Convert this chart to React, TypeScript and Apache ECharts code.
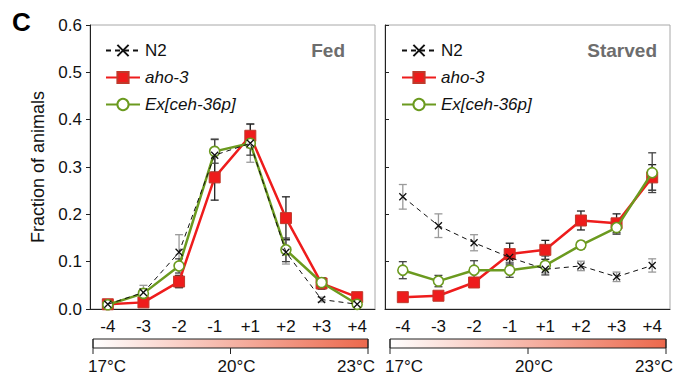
import React, { useEffect, useRef } from "react";
import * as echarts from "echarts";

const categories = ["-4", "-3", "-2", "-1", "+1", "+2", "+3", "+4"];
const yTicks = [0, 0.1, 0.2, 0.3, 0.4, 0.5, 0.6];
const seriesNames = ["N2", "aho-3", "Ex[ceh-36p]"];

// Fed panel
const fedN2 = [0.01, 0.035, 0.12, 0.325, 0.35, 0.12, 0.02, 0.01];
const fedN2Err = [0.004, 0.015, 0.037, 0.035, 0.04, 0.025, 0.005, 0.004];
const fedAho3 = [0.01, 0.014, 0.058, 0.278, 0.366, 0.192, 0.054, 0.025];
const fedAho3Err = [0.004, 0.005, 0.013, 0.048, 0.025, 0.045, 0.012, 0.005];
const fedEx = [0.009, 0.033, 0.091, 0.333, 0.35, 0.125, 0.056, 0.01];
const fedExErr = [0.004, 0.01, 0.015, 0.025, 0.025, 0.025, 0.01, 0.004];

// Starved panel
const stvN2 = [0.237, 0.176, 0.14, 0.109, 0.084, 0.091, 0.068, 0.092];
const stvN2Err = [0.026, 0.025, 0.017, 0.01, 0.008, 0.01, 0.01, 0.014];
const stvAho3 = [0.025, 0.028, 0.056, 0.116, 0.125, 0.187, 0.181, 0.278];
const stvAho3Err = [0.004, 0.005, 0.008, 0.023, 0.02, 0.02, 0.02, 0.027];
const stvEx = [0.082, 0.059, 0.082, 0.082, 0.092, 0.135, 0.172, 0.288];
const stvExErr = [0.018, 0.012, 0.02, 0.015, 0.02, 0.008, 0.014, 0.042];

const panelTitles = ["Fed", "Starved"];
const tempLabels = ["17°C", "20°C", "23°C"];

const FONT = "'Liberation Sans', Arial, Helvetica, sans-serif";
const RED = "#ee1c1c";
const GREEN = "#6b9a1f";
const X_SYMBOL = "path://M0,0L10,10M10,0L0,10";

function errData(vals: number[], errs: number[]) {
  return vals.map((v, i) => [i, v - errs[i], v + errs[i]]);
}

function errSeries(idx: number, vals: number[], errs: number[], color: string, z: number) {
  return {
    type: "custom",
    xAxisIndex: idx,
    yAxisIndex: idx,
    z,
    silent: true,
    encode: { x: 0, y: [1, 2] },
    data: errData(vals, errs),
    renderItem: (params: any, api: any) => {
      const x = api.value(0);
      const lo = api.coord([x, api.value(1)]);
      const hi = api.coord([x, api.value(2)]);
      const w = 4;
      const style = { stroke: color, lineWidth: 1.3 };
      return {
        type: "group",
        children: [
          { type: "line", shape: { x1: lo[0], y1: lo[1], x2: hi[0], y2: hi[1] }, style },
          { type: "line", shape: { x1: lo[0] - w, y1: lo[1], x2: lo[0] + w, y2: lo[1] }, style },
          { type: "line", shape: { x1: hi[0] - w, y1: hi[1], x2: hi[0] + w, y2: hi[1] }, style },
        ],
      };
    },
  };
}

function lineSeries(idx: number, name: string, vals: number[]) {
  if (name === "N2") {
    return {
      type: "line",
      name,
      xAxisIndex: idx,
      yAxisIndex: idx,
      z: 6,
      data: vals,
      symbol: X_SYMBOL,
      symbolSize: 7,
      lineStyle: { color: "#111", width: 1, type: [5, 4] },
      itemStyle: { color: "#111", borderColor: "#111", borderWidth: 1.3 },
    };
  }
  if (name === "aho-3") {
    return {
      type: "line",
      name,
      xAxisIndex: idx,
      yAxisIndex: idx,
      z: 4,
      data: vals,
      symbol: "rect",
      symbolSize: 11,
      lineStyle: { color: RED, width: 2.5 },
      itemStyle: { color: RED, borderColor: "#c0392b", borderWidth: 1 },
    };
  }
  return {
    type: "line",
    name,
    xAxisIndex: idx,
    yAxisIndex: idx,
    z: 5,
    data: vals,
    symbol: "circle",
    symbolSize: 10,
    lineStyle: { color: GREEN, width: 2.5 },
    itemStyle: { color: "#ffffff", borderColor: GREEN, borderWidth: 1.6 },
  };
}

function colorBar(x0: number, x1: number, y: number) {
  const h = 9;
  const mid = (x0 + x1) / 2;
  const tickStyle = { stroke: "#222", lineWidth: 1 };
  const textStyle = (align: string) => ({
    fill: "#111",
    font: `17px ${FONT}`,
    align,
    verticalAlign: "middle",
  });
  return [
    {
      type: "rect",
      shape: { x: x0, y, width: x1 - x0, height: h },
      style: {
        fill: new echarts.graphic.LinearGradient(0, 0, 1, 0, [
          { offset: 0, color: "#ffffff" },
          { offset: 1, color: "#ec684c" },
        ]),
        stroke: "#222",
        lineWidth: 1,
      },
    },
    { type: "line", shape: { x1: x0, y1: y, x2: x0, y2: y + h + 6 }, style: tickStyle },
    { type: "line", shape: { x1: mid, y1: y + h, x2: mid, y2: y + h + 6 }, style: tickStyle },
    { type: "line", shape: { x1: x1, y1: y, x2: x1, y2: y + h + 6 }, style: tickStyle },
    { type: "text", x: x0 - 5, y: y + 27, style: { text: tempLabels[0], ...textStyle("left") } },
    { type: "text", x: mid + 6, y: y + 27, style: { text: tempLabels[1], ...textStyle("center") } },
    { type: "text", x: x1 + 7, y: y + 27, style: { text: tempLabels[2], ...textStyle("right") } },
  ];
}

export default function App() {
  const ref = useRef<HTMLDivElement>(null);

  useEffect(() => {
    if (!ref.current) return;
    const chart = echarts.init(ref.current, undefined, { renderer: "svg" });

    const xAxisBase = (idx: number) => ({
      type: "category",
      gridIndex: idx,
      data: categories,
      boundaryGap: true,
      axisLine: { lineStyle: { color: "#222", width: 1 } },
      axisTick: { inside: true, length: 5, alignWithLabel: false, lineStyle: { color: "#222" } },
      axisLabel: { color: "#111", fontSize: 17, fontFamily: FONT, margin: 9 },
      splitLine: { show: false },
    });

    const yAxisBase = (idx: number) => ({
      type: "value",
      gridIndex: idx,
      min: 0,
      max: 0.6,
      interval: 0.1,
      axisLine: { show: true, lineStyle: { color: "#222", width: 1 } },
      axisTick: { show: true, inside: idx === 1, length: 4, lineStyle: { color: "#222" } },
      axisLabel: {
        show: idx === 0,
        color: "#111",
        fontSize: 17,
        fontFamily: FONT,
        margin: 8,
        formatter: (v: number) => (yTicks.some((t) => Math.abs(t - v) < 1e-9) ? v.toFixed(1) : ""),
      },
      splitLine: { show: false },
      name: idx === 0 ? "Fraction of animals" : "",
      nameLocation: "middle",
      nameGap: 43,
      nameTextStyle: { color: "#111", fontSize: 18, fontFamily: FONT },
    });

    const legendBase = (left: number) => ({
      orient: "vertical",
      left,
      top: 37,
      itemWidth: 34,
      itemHeight: 14,
      itemGap: 10,
      data: seriesNames,
      selectedMode: false,
      textStyle: {
        color: "#111",
        fontSize: 17,
        fontFamily: FONT,
        lineHeight: 14,
        rich: { i: { fontStyle: "italic", fontSize: 17, fontFamily: FONT, color: "#111" } },
      },
      formatter: (name: string) => (name === "N2" ? name : `{i|${name}}`),
    });

    chart.setOption({
      animation: false,
      backgroundColor: "#ffffff",
      textStyle: { fontFamily: FONT },
      grid: [
        { left: 90, top: 25, width: 285, height: 284, show: true, borderColor: "#a8a8a8", borderWidth: 1 },
        { left: 385, top: 25, width: 285, height: 284, show: true, borderColor: "#a8a8a8", borderWidth: 1 },
      ],
      xAxis: [xAxisBase(0), xAxisBase(1)],
      yAxis: [yAxisBase(0), yAxisBase(1)],
      legend: [legendBase(100), legendBase(396)],
      series: [
        errSeries(0, fedN2, fedN2Err, "#9a9a9a", 1),
        errSeries(0, fedAho3, fedAho3Err, "#222", 2),
        errSeries(0, fedEx, fedExErr, "#444", 2),
        lineSeries(0, "aho-3", fedAho3),
        lineSeries(0, "Ex[ceh-36p]", fedEx),
        lineSeries(0, "N2", fedN2),
        errSeries(1, stvN2, stvN2Err, "#9a9a9a", 1),
        errSeries(1, stvAho3, stvAho3Err, "#222", 2),
        errSeries(1, stvEx, stvExErr, "#444", 2),
        lineSeries(1, "aho-3", stvAho3),
        lineSeries(1, "Ex[ceh-36p]", stvEx),
        lineSeries(1, "N2", stvN2),
      ],
      graphic: [
        {
          type: "text",
          x: 12,
          y: 22,
          style: { text: "C", font: `bold 26px ${FONT}`, fill: "#000", verticalAlign: "middle" },
        },
        {
          type: "text",
          x: 345,
          y: 50,
          style: { text: panelTitles[0], font: `bold 19px ${FONT}`, fill: "#6d6d6d", align: "right", verticalAlign: "middle" },
        },
        {
          type: "text",
          x: 657,
          y: 50,
          style: { text: panelTitles[1], font: `bold 19px ${FONT}`, fill: "#6d6d6d", align: "right", verticalAlign: "middle" },
        },
        ...colorBar(93, 368, 339),
        ...colorBar(390, 666, 339),
      ],
    });

    return () => chart.dispose();
  }, []);

  return (
    <div
      ref={ref}
      style={{ position: "fixed", left: 0, top: 0, width: 678, height: 382, background: "#fff" }}
    />
  );
}
